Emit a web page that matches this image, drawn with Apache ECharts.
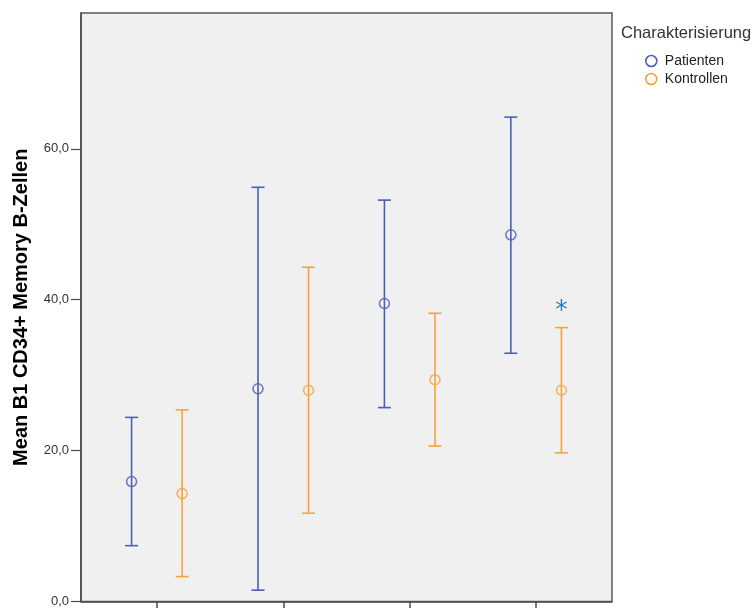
<!DOCTYPE html>
<html>
<head>
<meta charset="utf-8">
<script src="https://cdn.jsdelivr.net/npm/echarts@6/dist/echarts.min.js"></script>
<style>html,body{margin:0;padding:0;background:#fff}#c{width:756px;height:608px}</style>
</head>
<body>
<div id="c"></div>
<script>
// Groups (x positions 1..4), offsets per series
const groups = [1, 2, 3, 4];
const yTicks = [0, 20, 40, 60];
// Patienten
const patMean  = [15.9, 28.2, 39.5, 48.6];
const patLow   = [7.4, 1.5, 25.7, 32.9];
const patHigh  = [24.4, 54.9, 53.2, 64.2];
// Kontrollen
const conMean  = [14.3, 28.0, 29.4, 28.0];
const conLow   = [3.3, 11.7, 20.6, 19.7];
const conHigh  = [25.4, 44.3, 38.2, 36.3];
// significance marker (group, value)
const starGroup = [4];
const starValue = [39.3];

const OFF = 0.2;
const BLUE = '#4a5fb5';
const ORANGE = '#f6a43a';
const STAR = '#2b7bcc';

function errData(mean, low, high, off) {
  return groups.map((g, i) => [g + off, low[i], high[i]]);
}
function meanData(mean, off) {
  return groups.map((g, i) => [g + off, mean[i]]);
}
function errRender(color) {
  return function (params, api) {
    const x = api.value(0);
    const lo = api.coord([x, api.value(1)]);
    const hi = api.coord([x, api.value(2)]);
    const w = 6.5;
    const st = { stroke: color, lineWidth: 1.6 };
    return {
      type: 'group',
      children: [
        { type: 'line', shape: { x1: lo[0], y1: lo[1], x2: hi[0], y2: hi[1] }, style: st },
        { type: 'line', shape: { x1: lo[0] - w, y1: lo[1], x2: lo[0] + w, y2: lo[1] }, style: st },
        { type: 'line', shape: { x1: hi[0] - w, y1: hi[1], x2: hi[0] + w, y2: hi[1] }, style: st }
      ]
    };
  };
}
function starRender(params, api) {
  const p = api.coord([api.value(0), api.value(1)]);
  const r = 6;
  const st = { stroke: STAR, lineWidth: 1.4 };
  const c = Math.cos(Math.PI / 6) * r, s = Math.sin(Math.PI / 6) * r;
  return {
    type: 'group',
    children: [
      { type: 'line', shape: { x1: p[0], y1: p[1] - r, x2: p[0], y2: p[1] + r }, style: st },
      { type: 'line', shape: { x1: p[0] - c, y1: p[1] - s, x2: p[0] + c, y2: p[1] + s }, style: st },
      { type: 'line', shape: { x1: p[0] - c, y1: p[1] + s, x2: p[0] + c, y2: p[1] - s }, style: st }
    ]
  };
}

const chart = echarts.init(document.getElementById('c'), null, { renderer: 'canvas' });
chart.setOption({
  animation: false,
  backgroundColor: '#ffffff',
  textStyle: { fontFamily: 'Liberation Sans, Arial, sans-serif' },
  grid: {
    left: 81, top: 13, right: 144, bottom: 6,
    show: true, backgroundColor: '#f0f0f0', borderColor: '#5a5a5a', borderWidth: 1.5
  },
  graphic: [
    { type: 'text', left: 621, top: 25,
      style: { text: 'Charakterisierung', fontSize: 16.5, fill: '#333', fontFamily: 'Liberation Sans, Arial, sans-serif' } }
  ],
  legend: {
    orient: 'vertical', left: 645, top: 54, padding: 0,
    itemWidth: 11, itemHeight: 11, itemGap: 4,
    textStyle: { fontSize: 14, lineHeight: 14, color: '#222', padding: [0, 0, 0, 3] },
    data: [
      { name: 'Patienten', icon: 'circle', itemStyle: { color: 'transparent', borderColor: BLUE, borderWidth: 1.6 } },
      { name: 'Kontrollen', icon: 'circle', itemStyle: { color: 'transparent', borderColor: ORANGE, borderWidth: 1.6 } }
    ]
  },
  xAxis: {
    type: 'value', min: 0.4, max: 4.6,
    splitLine: { show: false },
    axisLine: { show: true, onZero: false, lineStyle: { color: '#4a4a4a', width: 1.5 } },
    axisTick: { show: true, length: 7, lineStyle: { color: '#4a4a4a', width: 1.5 }, customValues: groups },
    axisLabel: { show: false }
  },
  yAxis: {
    type: 'value', min: 0, max: 78,
    name: 'Mean B1 CD34+ Memory B-Zellen',
    nameLocation: 'middle', nameGap: 50, nameRotate: 90,
    nameTextStyle: { fontSize: 20, fontWeight: 'bold', color: '#000' },
    splitLine: { show: false },
    axisLine: { show: true, lineStyle: { color: '#4a4a4a', width: 1.5 } },
    axisTick: { show: true, length: 10, lineStyle: { color: '#4a4a4a', width: 1.2 }, customValues: yTicks },
    axisLabel: {
      customValues: yTicks, fontSize: 13, color: '#333', margin: 12,
      formatter: v => v.toFixed(1).replace('.', ',')
    }
  },
  series: [
    { name: 'Patienten', type: 'custom', renderItem: errRender(BLUE), data: errData(patMean, patLow, patHigh, -OFF), encode: { x: 0, y: [1, 2] }, silent: true },
    { name: 'Kontrollen', type: 'custom', renderItem: errRender(ORANGE), data: errData(conMean, conLow, conHigh, OFF), encode: { x: 0, y: [1, 2] }, silent: true },
    { name: 'Patienten', type: 'scatter', symbol: 'circle', symbolSize: 10,
      itemStyle: { color: 'transparent', borderColor: BLUE, borderWidth: 1.6 }, data: meanData(patMean, -OFF), silent: true },
    { name: 'Kontrollen', type: 'scatter', symbol: 'circle', symbolSize: 10,
      itemStyle: { color: 'transparent', borderColor: ORANGE, borderWidth: 1.6 }, data: meanData(conMean, OFF), silent: true },
    { name: 'sig', type: 'custom', renderItem: starRender,
      data: starGroup.map((g, i) => [g + OFF, starValue[i]]), encode: { x: 0, y: 1 }, silent: true }
  ]
});
</script>
</body>
</html>
